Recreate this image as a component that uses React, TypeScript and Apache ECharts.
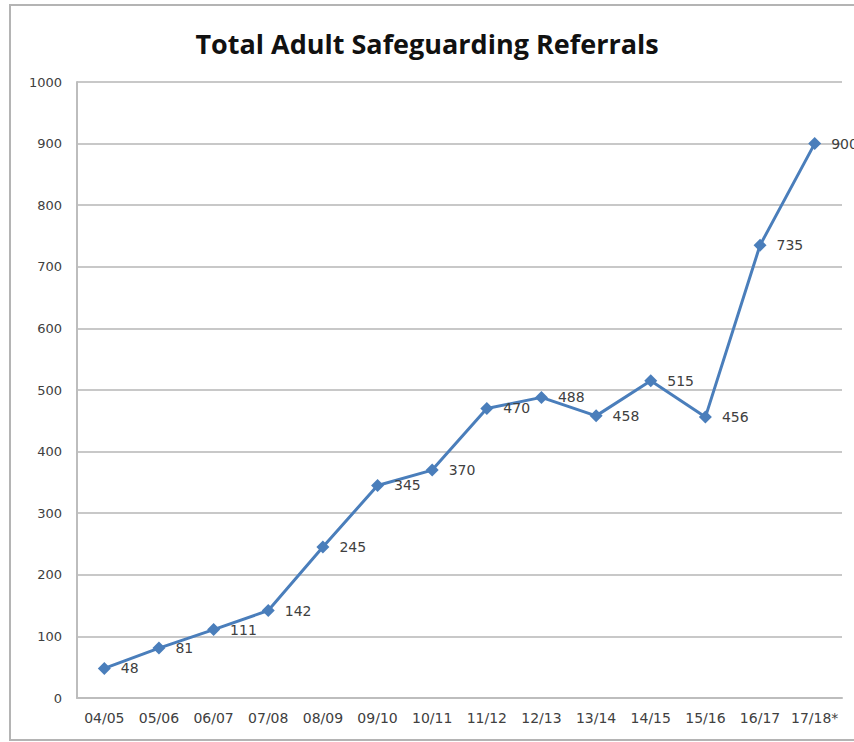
import React, { useEffect, useRef } from "react";
import * as echarts from "echarts";

const categories = ["04/05", "05/06", "06/07", "07/08", "08/09", "09/10", "10/11", "11/12", "12/13", "13/14", "14/15", "15/16", "16/17", "17/18*"];
const referrals = [48, 81, 111, 142, 245, 345, 370, 470, 488, 458, 515, 456, 735, 900];
const yTicks = { min: 0, max: 1000, interval: 100 };

export default function App() {
  const ref = useRef<HTMLDivElement>(null);

  useEffect(() => {
    if (!ref.current) return;
    const chart = echarts.init(ref.current, null, { renderer: "svg" });
    chart.setOption({
      animation: false,
      backgroundColor: "#ffffff",
      graphic: [
        {
          type: "rect",
          shape: { x: 10, y: 5, width: 860, height: 735 },
          style: { fill: "none", stroke: "#b4b4b4", lineWidth: 2 },
          silent: true,
        },
      ],
      title: {
        text: "Total Adult Safeguarding Referrals",
        left: "center",
        top: 25,
        textStyle: {
          fontFamily: "Open Sans",
          fontWeight: "bold",
          fontSize: 27,
          color: "#111111",
        },
      },
      grid: { left: 77, right: 12, top: 82, bottom: 44, containLabel: false },
      xAxis: {
        type: "category",
        data: categories,
        boundaryGap: true,
        axisLine: { show: true, lineStyle: { color: "#bdbdbd", width: 2 } },
        axisTick: { show: false },
        axisLabel: {
          color: "#404040",
          fontFamily: "DejaVu Sans",
          fontSize: 14,
          margin: 13,
          interval: 0,
        },
        splitLine: { show: false },
      },
      yAxis: {
        type: "value",
        min: yTicks.min,
        max: yTicks.max,
        interval: yTicks.interval,
        axisLine: { show: true, lineStyle: { color: "#bdbdbd", width: 2 } },
        axisTick: { show: false },
        axisLabel: {
          color: "#404040",
          fontFamily: "DejaVu Sans",
          fontSize: 13,
          margin: 15,
          formatter: (v: number) => String(v),
        },
        splitLine: { show: true, lineStyle: { color: "#c8c8c8", width: 2 } },
      },
      series: [
        {
          type: "line",
          data: referrals,
          symbol: "diamond",
          symbolSize: 13,
          lineStyle: { color: "#4a7ebb", width: 3 },
          itemStyle: { color: "#4a7ebb" },
          label: {
            show: true,
            position: "right",
            distance: 10,
            color: "#404040",
            fontFamily: "DejaVu Sans",
            fontSize: 14,
          },
        },
      ],
    });
    return () => chart.dispose();
  }, []);

  return (
    <div
      ref={ref}
      style={{ position: "fixed", left: 0, top: 0, width: 854, height: 742 }}
    />
  );
}
